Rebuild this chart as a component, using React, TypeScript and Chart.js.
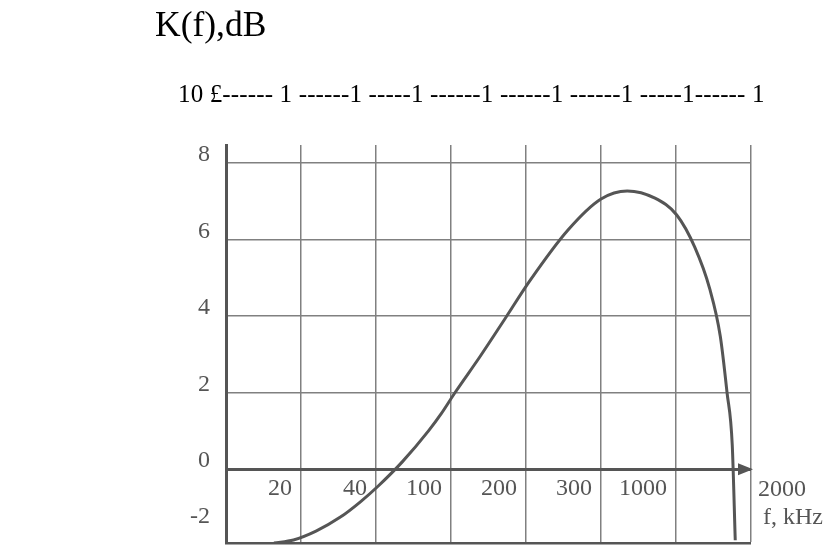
import React, { useEffect, useRef } from "react";
import { Chart, registerables } from "chart.js";

Chart.register(...registerables);

const TITLE = "K(f),dB";
const SUBLINE = "10 £------ 1 ------1 -----1 ------1 ------1 ------1 -----1------ 1";
const FREQ_LABELS = ["20", "40", "100", "200", "300", "1000"];
const END_FREQ = "2000";
const X_TITLE = "f, kHz";
const Y_TICKS = [8, 6, 4, 2, 0, -2];
const COLUMNS = 7;
const Y_MIN = -1.93;
const Y_MAX = 8.47;

// curve: x in grid-column units, y in dB
const CURVE_X = [0.64, 0.9, 1.2, 1.52, 1.8, 2.03, 2.35, 2.7, 2.87, 3.05, 3.39, 3.72, 4.05, 4.56, 5.0, 5.35, 5.72, 6.01, 6.25, 6.45, 6.59, 6.68, 6.75, 6.79];
const CURVE_Y = [-1.93, -1.85, -1.62, -1.26, -0.84, -0.44, 0.19, 1.0, 1.45, 1.99, 2.95, 3.93, 4.92, 6.25, 7.06, 7.27, 7.08, 6.64, 5.8, 4.71, 3.48, 2.01, 0.63, -1.86];

const INK = "#555555";
const GRID = "#808080";
const FONT = '"Liberation Serif", "Times New Roman", serif';

const labelsPlugin = {
  id: "labels",
  afterDraw(chart: any) {
    const { ctx, chartArea, scales } = chart;
    const xs = scales.x;
    const ys = scales.y;
    ctx.save();
    ctx.fillStyle = INK;
    ctx.font = `24px ${FONT}`;
    ctx.textAlign = "right";
    ctx.textBaseline = "middle";
    Y_TICKS.forEach((v) => {
      const y = Math.min(ys.getPixelForValue(v) - 8, chartArea.bottom - 26);
      ctx.fillText(String(v), chartArea.left - 16, y);
    });
    const zeroY = ys.getPixelForValue(0);
    FREQ_LABELS.forEach((t, i) => {
      ctx.fillText(t, xs.getPixelForValue(i + 1) - 9, zeroY + 20);
    });
    ctx.textAlign = "left";
    ctx.fillText(END_FREQ, chartArea.right + 7, zeroY + 21);
    ctx.fillText(X_TITLE, chartArea.right + 12, zeroY + 49);
    ctx.beginPath();
    ctx.moveTo(chartArea.right + 2, zeroY);
    ctx.lineTo(chartArea.right - 13, zeroY - 6);
    ctx.lineTo(chartArea.right - 13, zeroY + 6);
    ctx.closePath();
    ctx.fill();
    ctx.restore();
  },
};

export default function App() {
  const ref = useRef<HTMLCanvasElement | null>(null);

  useEffect(() => {
    if (!ref.current) return;
    const chart = new Chart(ref.current, {
      type: "line",
      data: {
        datasets: [
          {
            data: CURVE_X.map((x, i) => ({ x, y: CURVE_Y[i] })),
            borderColor: INK,
            borderWidth: 3,
            pointRadius: 0,
            fill: false,
            cubicInterpolationMode: "monotone",
          },
        ],
      },
      options: {
        responsive: false,
        animation: false,
        events: [],
        layout: { padding: { left: 226, right: 83, top: 145, bottom: 5 } },
        plugins: { legend: { display: false }, tooltip: { enabled: false }, title: { display: false } },
        scales: {
          x: {
            type: "linear",
            min: 0,
            max: COLUMNS,
            afterBuildTicks: (s: any) => {
              s.ticks = Array.from({ length: COLUMNS + 1 }, (_, i) => ({ value: i }));
            },
            afterFit: (s: any) => {
              s.height = 0;
            },
            ticks: { display: false },
            grid: {
              drawTicks: false,
              color: GRID,
              lineWidth: (c: any) => (c.tick && c.tick.value === 0 ? 0 : 1.5),
            },
            border: { display: true, color: INK, width: 2.5 },
          },
          y: {
            type: "linear",
            min: Y_MIN,
            max: Y_MAX,
            afterBuildTicks: (s: any) => {
              s.ticks = Y_TICKS.filter((v) => v >= Y_MIN && v <= Y_MAX).map((v) => ({ value: v }));
            },
            afterFit: (s: any) => {
              s.width = 0;
            },
            ticks: { display: false },
            grid: {
              drawTicks: false,
              color: (c: any) => (c.tick && c.tick.value === 0 ? INK : GRID),
              lineWidth: (c: any) => (c.tick && c.tick.value === 0 ? 3 : 1.5),
            },
            border: { display: true, color: INK, width: 3 },
          },
        },
      },
      plugins: [labelsPlugin],
    } as any);
    return () => chart.destroy();
  }, []);

  return (
    <div style={{ position: "absolute", left: 0, top: 0, width: 834, height: 548, background: "#fff", overflow: "hidden" }}>
      <canvas ref={ref} width={834} height={548} style={{ position: "absolute", left: 0, top: 0 }} />
      <div
        style={{
          position: "absolute",
          left: 155,
          top: 7,
          fontFamily: FONT,
          fontSize: 35.5,
          lineHeight: "35px",
          color: "#000",
          whiteSpace: "nowrap",
        }}
      >
        {TITLE}
      </div>
      <div
        style={{
          position: "absolute",
          left: 178,
          top: 81,
          fontFamily: FONT,
          fontSize: 25,
          lineHeight: "25px",
          letterSpacing: "0.15px",
          color: "#000",
          whiteSpace: "nowrap",
        }}
      >
        {SUBLINE}
      </div>
    </div>
  );
}
